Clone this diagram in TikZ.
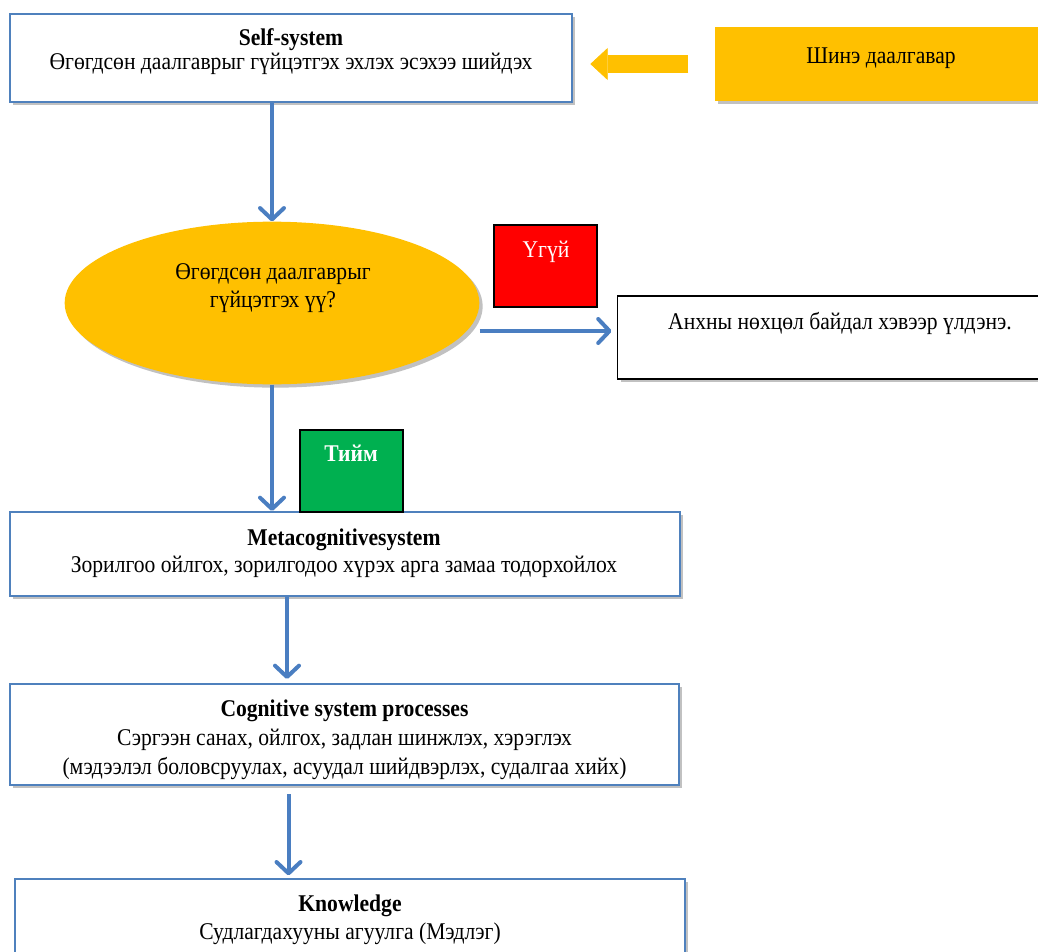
\documentclass[tikz,border=0pt]{standalone}
\usepackage{fontspec}
\setmainfont{Liberation Serif}[FakeStretch=0.9]
\usetikzlibrary{arrows.meta,positioning,calc,shadows,shapes.geometric}
\definecolor{boxBlue}{RGB}{79,129,189}
\definecolor{arrowBlue}{RGB}{74,126,193}
\definecolor{taskOrange}{RGB}{255,192,0}
\definecolor{noRed}{RGB}{255,0,0}
\definecolor{yesGreen}{RGB}{0,176,80}

\begin{document}
\begin{tikzpicture}[x=0.75pt,y=-0.75pt,
  shade/.style={drop shadow={shadow xshift=2.5pt,shadow yshift=-2.5pt,opacity=0.35,fill=black!70}},
  sysbox/.style={draw=boxBlue,line width=1.5pt,fill=white,shade},
  plainbox/.style={draw=black,line width=1.2pt,fill=white,shade},
  tagbox/.style={draw=black,line width=1.2pt,minimum width=77.25pt,minimum height=61.5pt},
  txt/.style={align=center,inner sep=0pt,font=\fontsize{18}{21}\selectfont},
  flow/.style={draw=arrowBlue,line width=3pt,-{Straight Barb[round,length=8.5pt,width=18pt]}}]
\useasboundingbox (0,0) rectangle (1038,952);
\clip (0,0) rectangle (1038,952);
% boxes
\node[sysbox,minimum width=421.5pt,minimum height=66pt] (self) at (291,58) {};
\node[txt,font=\fontsize{18}{18}\selectfont] (selftxt) at (291,52) {\textbf{Self-system}\\Өгөгдсөн даалгаврыг гүйцэтгэх эхлэх эсэхээ шийдэх};
\node[fill=taskOrange,minimum width=248pt,minimum height=55.5pt,shade] (task) at (880,64) {};
\node[txt] (tasktxt) at (881,58) {Шинэ даалгавар};
\node[ellipse,fill=taskOrange,minimum width=311pt,minimum height=122pt,shade] (ell) at (272,303) {};
\node[txt] (elltxt) at (273,288) {Өгөгдсөн даалгаврыг\\гүйцэтгэх үү?};
\node[tagbox,fill=noRed] (no) at (545.5,266) {};
\node[txt,text=white] (notxt) at (546,252) {Үгүй};
\node[plainbox,minimum width=320pt,minimum height=62.25pt] (res) at (831,337.5) {};
\node[txt] (restxt) at (840,323) {Анхны нөхцөл байдал хэвээр үлдэнэ.};
\node[sysbox,minimum width=502.5pt,minimum height=63pt] (meta) at (345,554) {};
\node[txt,font=\fontsize{18}{20}\selectfont] (metatxt) at (344,553.5) {\textbf{Metacognitivesystem}\\Зорилгоо ойлгох, зорилгодоо хүрэх арга замаа тодорхойлох};
\node[tagbox,fill=yesGreen] (yes) at (351.5,471) {};
\node[txt,text=white] (yestxt) at (351,453.5) {\textbf{Тийм}};
\node[sysbox,minimum width=501.75pt,minimum height=75.75pt] (cog) at (344.5,734.5) {};
\node[txt,font=\fontsize{18}{21.75}\selectfont] (cogtxt) at (344.5,740) {\textbf{Cognitive system processes}\\Сэргээн санах, ойлгох, задлан шинжлэх, хэрэглэх\\(мэдээлэл боловсруулах, асуудал шийдвэрлэх, судалгаа хийх)};
\node[sysbox,minimum width=502.5pt,minimum height=60.75pt] (know) at (350,919.5) {};
\node[txt] (knowtxt) at (350,920) {\textbf{Knowledge}\\Судлагдахууны агуулга (Мэдлэг)};
% connectors
\coordinate (noexit) at ($(ell.east)+(0,28)$);
\coordinate (m2c) at ($(meta.south)+(-58,0)$);
\coordinate (c2k) at ($(cog.south)+(-56,0)$);
\draw[taskOrange,line width=14pt,-{Triangle[length=13pt,width=24pt,line width=0.5pt]},shorten <=19.5pt,shorten >=13pt] (task.west) -- (task.west -| self.east);
\draw[flow] (self.south -| ell.north) -- (ell.north);
\draw[flow] (ell.south) -- (ell.south |- meta.north);
\draw[flow,shorten >=4pt] (noexit) -- (noexit -| res.west);
\draw[flow,shorten >=3pt] (m2c) -- (m2c |- cog.north);
\draw[flow,shorten <=6pt,shorten >=2pt] (c2k) -- (c2k |- know.north);
\end{tikzpicture}
\end{document}
